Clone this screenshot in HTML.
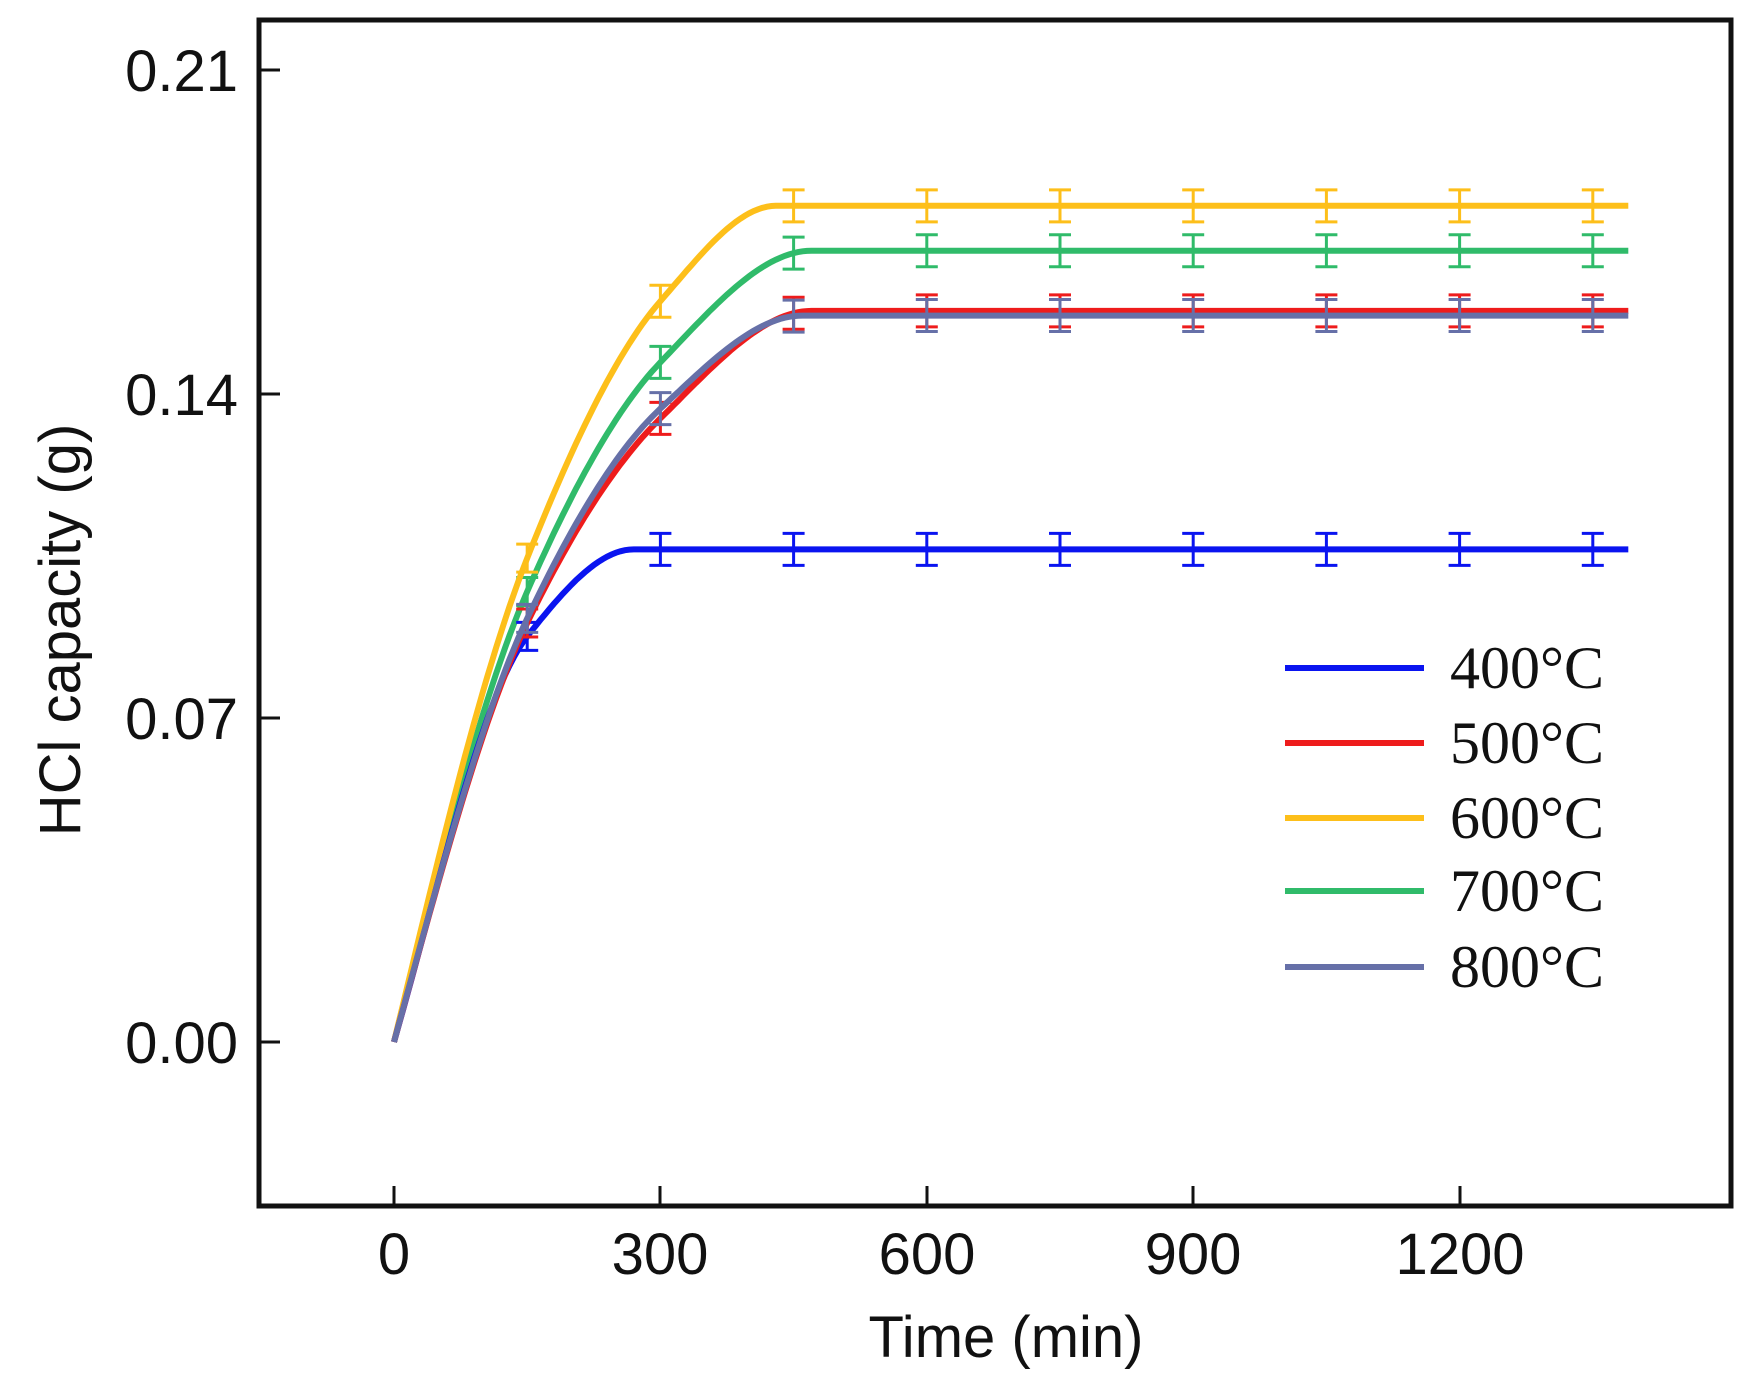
<!DOCTYPE html>
<html><head><meta charset="utf-8"><style>
html,body{margin:0;padding:0;background:#fff;}
svg{display:block;}
.t{font-family:"Liberation Sans",sans-serif;font-size:58px;fill:#111;}
.l{font-family:"Liberation Serif",serif;font-size:60px;fill:#111;}
</style></head><body>
<svg id="s" width="1742" height="1386" viewBox="0 0 1742 1386" xmlns="http://www.w3.org/2000/svg">
<rect x="259" y="20" width="1472" height="1186" fill="none" stroke="#111" stroke-width="5"/>
<g stroke="#111" stroke-width="3">
<line x1="259" y1="70" x2="280" y2="70"/><line x1="259" y1="394" x2="280" y2="394"/>
<line x1="259" y1="718" x2="280" y2="718"/><line x1="259" y1="1042" x2="280" y2="1042"/>
<line x1="394" y1="1206" x2="394" y2="1186"/><line x1="660" y1="1206" x2="660" y2="1186"/>
<line x1="927" y1="1206" x2="927" y2="1186"/><line x1="1193" y1="1206" x2="1193" y2="1186"/>
<line x1="1460" y1="1206" x2="1460" y2="1186"/>
</g>
<g class="t" text-anchor="end">
<text x="238" y="91">0.21</text><text x="238" y="415">0.14</text>
<text x="238" y="739">0.07</text><text x="238" y="1063">0.00</text>
</g>
<g class="t" text-anchor="middle">
<text x="394" y="1274">0</text><text x="660" y="1274">300</text><text x="927" y="1274">600</text>
<text x="1193" y="1274">900</text><text x="1460" y="1274">1200</text>
<text x="1006" y="1357">Time (min)</text>
<text transform="translate(80,630) rotate(-90)">HCl capacity (g)</text>
</g>
<g id="series" fill="none" stroke-width="6"></g>
<g stroke-width="6">
<line x1="1285" y1="668" x2="1424" y2="668" stroke="#0a14f0"/>
<line x1="1285" y1="743" x2="1424" y2="743" stroke="#ee1c1c"/>
<line x1="1285" y1="818" x2="1424" y2="818" stroke="#fdbf1a"/>
<line x1="1285" y1="891" x2="1424" y2="891" stroke="#30bb6a"/>
<line x1="1285" y1="967" x2="1424" y2="967" stroke="#6670a8"/>
</g>
<g class="l">
<text x="1450" y="688">400°C</text><text x="1450" y="763">500°C</text>
<text x="1450" y="838">600°C</text><text x="1450" y="911">700°C</text>
<text x="1450" y="987">800°C</text>
</g>
</svg>
<script>
var g=document.getElementById('series'),ns='http://www.w3.org/2000/svg';
function px(t){return 394+t*0.888;}function py(v){return 1042-v*4630;}
function pchip(X,Y){var n=X.length,h=[],d=[],m=[];for(var i=0;i<n-1;i++){h[i]=X[i+1]-X[i];d[i]=(Y[i+1]-Y[i])/h[i];}
m[0]=d[0]*1.15;m[n-1]=0;for(var i=1;i<n-1;i++){if(d[i-1]*d[i]<=0)m[i]=0;else{var w1=2*h[i]+h[i-1],w2=h[i]+2*h[i-1];m[i]=(w1+w2)/(w1/d[i-1]+w2/d[i]);}}
return function(t){var i=0;while(i<n-2&&t>X[i+1])i++;if(t>=X[n-1])return Y[n-1];var s=(t-X[i])/h[i],s2=s*s,s3=s2*s;
return (2*s3-3*s2+1)*Y[i]+(s3-2*s2+s)*h[i]*m[i]+(-2*s3+3*s2)*Y[i+1]+(s3-s2)*h[i]*m[i+1];};}
var S=[["#30bb6a",[0,150,300,470,1400],[0,0.0973,0.1468,0.1709,0.1709]],
["#fdbf1a",[0,150,300,430,1400],[0,0.1045,0.160,0.1806,0.1806]],
["#0a14f0",[0,150,270,1400],[0,0.0876,0.1064,0.1064]],
["#ee1c1c",[0,150,300,470,1400],[0,0.0905,0.1347,0.1579,0.1579]],
["#6670a8",[0,150,300,460,1400],[0,0.0915,0.1368,0.1569,0.1569]]];
S.forEach(function(s){var f=pchip(s[1],s[2]);var d='';for(var t=0;t<=1390;t+=5){var v=f(t);d+=(t?'L':'M')+px(t).toFixed(1)+' '+py(v).toFixed(1);}
var p=document.createElementNS(ns,'path');p.setAttribute('d',d);p.setAttribute('stroke',s[0]);g.appendChild(p);
for(var t=150;t<=1350;t+=150){var v=f(t);var x=px(t),y=py(v),e=t<300?14:16;
var b=document.createElementNS(ns,'path');b.setAttribute('d','M'+x+' '+(y-e)+'V'+(y+e)+'M'+(x-11)+' '+(y-e)+'H'+(x+11)+'M'+(x-11)+' '+(y+e)+'H'+(x+11));b.setAttribute('stroke',s[0]);b.setAttribute('stroke-width','3');g.appendChild(b);}
});
</script>
</body></html>
